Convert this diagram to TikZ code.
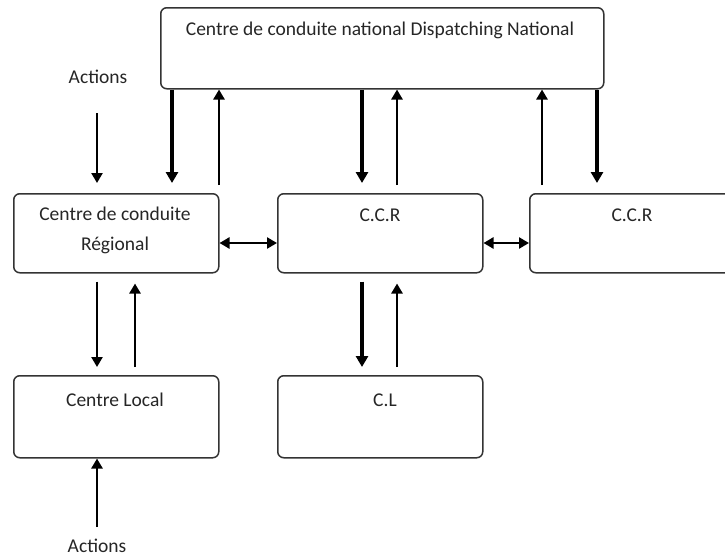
\documentclass[tikz,border=0pt]{standalone}
\usepackage{fontspec}
\setmainfont{Carlito}
\usetikzlibrary{arrows.meta,calc}
\begin{document}
\begin{tikzpicture}[x=1pt,y=-1pt,
  box/.style={draw=black!80, line width=1.5pt, rounded corners=6pt, inner sep=0pt, anchor=north west},
  txt/.style={text=black!85, font=\fontsize{19.5}{30}\selectfont, inner sep=0pt, align=center},
  dn/.style={line width=3.8pt, -{Triangle[length=11pt,width=12pt]}},
  upa/.style={line width=2.9pt, -{Triangle[length=10pt,width=11pt]}},
  both/.style={line width=2.4pt, {Triangle[length=10pt,width=11pt]}-{Triangle[length=10pt,width=11pt]}}]
\useasboundingbox (0,0) rectangle (725,557);
\clip (0,0) rectangle (725,557);
\fill[white] (0,0) rectangle (725,557);

% boxes
\node[box, minimum width=443pt, minimum height=81pt] (nat) at (160,7) {};
\node[box, minimum width=205pt, minimum height=79pt] (reg) at (13,193) {};
\node[box, minimum width=205pt, minimum height=79pt] (ccr1) at (277,193) {};
\node[box, minimum width=215pt, minimum height=79pt] (ccr2) at (529,193) {};
\node[box, minimum width=205pt, minimum height=82pt] (loc) at (13,375) {};
\node[box, minimum width=205pt, minimum height=82pt] (cl) at (277,375) {};

% texts
\node[txt] (tnat) at (380,30) {Centre de conduite national Dispatching National};
\node[txt] (treg) at (115,230) {Centre de conduite\\Régional};
\node[txt] (tccr1) at (380,215) {C.C.R};
\node[txt] (tccr2) at (632,215) {C.C.R};
\node[txt] (tloc) at (115,400) {Centre Local};
\node[txt] (tcl) at (385,400) {C.L};
\node[txt] (act1) at (98,77) {Actions};
\node[txt] (act2) at (97,546) {Actions};

% x positions
\coordinate (xa) at (172,0);
\coordinate (xb) at (219,0);
\coordinate (xc) at (362,0);
\coordinate (xd) at (397,0);
\coordinate (xe) at (542,0);
\coordinate (xf) at (597,0);
\coordinate (xg) at (97,0);
\coordinate (xh) at (135,0);
\coordinate (a1s) at (97,113);
\coordinate (a2s) at (97,527);
\coordinate (hy) at (0,243);

% national <-> regional level
\draw[dn] (nat.south -| xa) -- ($(reg.north -| xa)+(0,-10)$);
\draw[upa] ($(reg.north -| xb)+(0,-8)$) -- (nat.south -| xb);
\draw[dn] (nat.south -| xc) -- ($(ccr1.north -| xc)+(0,-10)$);
\draw[upa] ($(ccr1.north -| xd)+(0,-8)$) -- (nat.south -| xd);
\draw[upa] ($(ccr2.north -| xe)+(0,-8)$) -- (nat.south -| xe);
\draw[dn] (nat.south -| xf) -- ($(ccr2.north -| xf)+(0,-10)$);

% actions top
\draw[upa] (a1s) -- ($(reg.north -| a1s)+(0,-10)$);

% horizontal links
\draw[both] (reg.east |- hy) -- (ccr1.west |- hy);
\draw[both] (ccr1.east |- hy) -- (ccr2.west |- hy);

% regional <-> local
\draw[upa] ($(reg.south -| xg)+(0,8)$) -- ($(loc.north -| xg)+(0,-8)$);
\draw[upa] ($(loc.north -| xh)+(0,-8)$) -- ($(reg.south -| xh)+(0,10)$);
\draw[dn] ($(ccr1.south -| xc)+(0,8)$) -- ($(cl.north -| xc)+(0,-8)$);
\draw[upa] ($(cl.north -| xd)+(0,-8)$) -- ($(ccr1.south -| xd)+(0,10)$);

% actions bottom
\draw[upa] (a2s) -- (loc.south -| a2s);
\end{tikzpicture}
\end{document}
